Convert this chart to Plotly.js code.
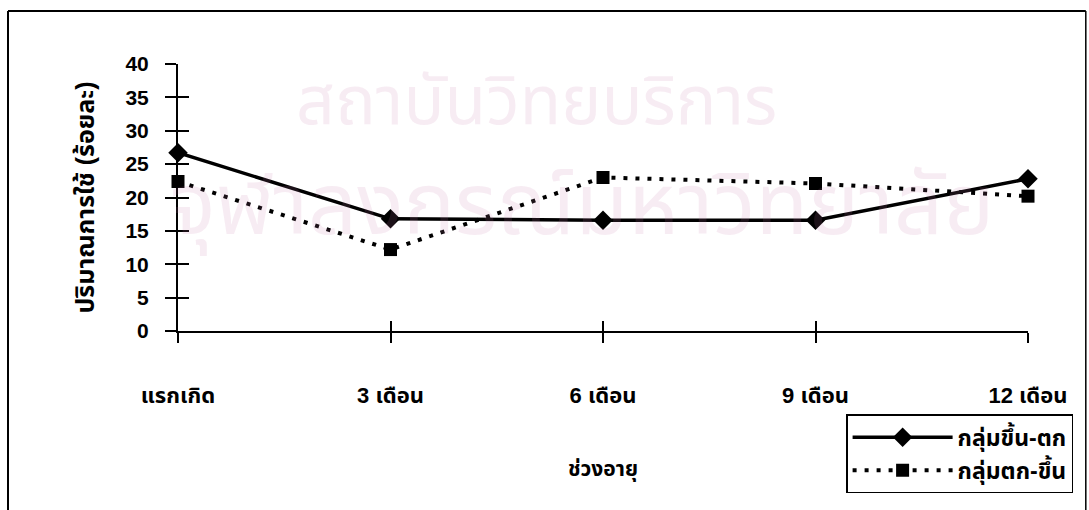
<!DOCTYPE html>
<html>
<head>
<meta charset="utf-8">
<script src="https://cdn.plot.ly/plotly-3.0.1.min.js"></script>
<style>html,body{margin:0;padding:0;background:#fff;}#chart{width:1089px;height:510px;}</style>
</head>
<body>
<div id="chart"></div>
<script>
const categories = ["แรกเกิด", "3 เดือน", "6 เดือน", "9 เดือน", "12 เดือน"];
const seriesNames = ["กลุ่มขึ้น-ตก", "กลุ่มตก-ขึ้น"];
const upDown = [26.7, 16.8, 16.6, 16.6, 22.8];
const downUp = [22.4, 12.2, 23.0, 22.1, 20.2];
const yTickVals = [0, 5, 10, 15, 20, 25, 30, 35, 40];
const yTitle = "ปริมาณการใช้ (ร้อยละ)";
const xTitle = "ช่วงอายุ";
const watermark = ["สถาบันวิทยบริการ", "จุฬาลงกรณ์มหาวิทยาลัย"];

const FONT = "'Liberation Sans', Arial, 'Noto Sans Thai', 'Noto Sans', sans-serif";
const idx = categories.map((c, i) => i);

const traces = [
  {
    x: categories, y: upDown, name: seriesNames[0], type: "scatter", mode: "lines+markers",
    line: {color: "#000", width: 3.5},
    marker: {symbol: "diamond", size: 15, color: "#000"},
    cliponaxis: false, hoverinfo: "x+y"
  },
  {
    x: categories, y: downUp, name: seriesNames[1], type: "scatter", mode: "lines+markers",
    line: {color: "#000", width: 4, dash: "4px,8px"},
    marker: {symbol: "square", size: 13, color: "#000"},
    cliponaxis: false, hoverinfo: "x+y"
  },
  {
    x: [0], y: [null], xaxis: "x2", yaxis: "y2", type: "scatter", mode: "lines",
    showlegend: false, hoverinfo: "skip"
  }
];

const layout = {
  width: 1089, height: 510,
  margin: {l: 178, r: 61, t: 64, b: 179},
  paper_bgcolor: "#fff", plot_bgcolor: "rgba(0,0,0,0)",
  font: {family: FONT, color: "#000", size: 18},
  showlegend: true,
  xaxis: {
    type: "category", range: [0, 4], showgrid: false, zeroline: false,
    showline: true, linecolor: "#000", linewidth: 2,
    ticks: "outside", ticklen: 10, tickwidth: 2, tickcolor: "#000",
    ticklabelstandoff: 34,
    tickfont: {family: FONT, size: 22, weight: "bold"},
    title: {text: xTitle, standoff: 54, font: {family: FONT, size: 21, weight: "bold"}}
  },
  yaxis: {
    range: [0, 40], tickvals: yTickVals, showgrid: false, zeroline: false,
    showline: true, linecolor: "#000", linewidth: 2,
    ticks: "outside", ticklen: 11, tickwidth: 2, tickcolor: "#000",
    ticklabelstandoff: 12,
    tickfont: {family: FONT, size: 21, weight: "bold"},
    title: {text: yTitle, standoff: 24, font: {family: FONT, size: 25, weight: "bold"}}
  },
  xaxis2: {
    overlaying: "x", anchor: "y2", range: [0, 4], tickvals: idx, showticklabels: false,
    showgrid: false, zeroline: false, showline: false,
    ticks: "inside", ticklen: 10, tickwidth: 2, tickcolor: "#000"
  },
  yaxis2: {
    overlaying: "y", anchor: "x2", range: [0, 40], tickvals: yTickVals, showticklabels: false,
    showgrid: false, zeroline: false, showline: false,
    ticks: "inside", ticklen: 11, tickwidth: 2, tickcolor: "#000"
  },
  legend: {
    x: 0.786, y: -0.312, xanchor: "left", yanchor: "top",
    bordercolor: "#000", borderwidth: 1.5, bgcolor: "#fff",
    font: {family: FONT, size: 23, weight: "bold"},
    itemwidth: 100, tracegroupgap: 4
  },
  annotations: [
    {xref: "paper", yref: "paper", x: 0.422, y: 0.865, text: watermark[0], showarrow: false,
     font: {family: FONT, size: 68, color: "rgba(200,120,170,0.14)"}, xanchor: "center", yanchor: "middle"},
    {xref: "paper", yref: "paper", x: 0.475, y: 0.47, text: watermark[1], showarrow: false,
     font: {family: FONT, size: 86, color: "rgba(200,120,170,0.14)"}, xanchor: "center", yanchor: "middle"}
  ],
  shapes: [
    {type: "line", xref: "paper", yref: "paper", x0: -0.2, x1: -0.2, y0: 1.1985, y1: -0.7, line: {color: "#000", width: 2}},
    {type: "line", xref: "paper", yref: "paper", x0: -0.2, x1: 1.068, y0: 1.1985, y1: 1.1985, line: {color: "#000", width: 2}},
    {type: "line", xref: "paper", yref: "paper", x0: 1.068, x1: 1.068, y0: 1.1985, y1: -0.7, line: {color: "#000", width: 1.5}}
  ]
};

Plotly.newPlot("chart", traces, layout, {displayModeBar: false, staticPlot: true});
</script>
</body>
</html>
